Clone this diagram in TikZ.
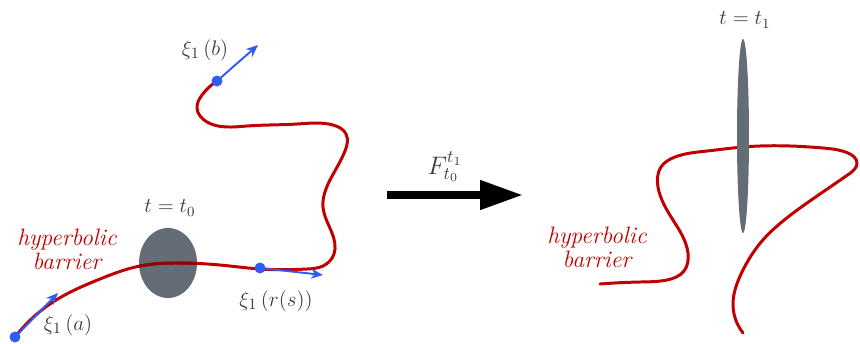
\documentclass[tikz,border=0pt]{standalone}
\usepackage{xcolor}
\definecolor{barrierred}{HTML}{C00000}
\definecolor{darkbarrier}{HTML}{850808}
\definecolor{blobgray}{HTML}{646C75}
\definecolor{tanblue}{HTML}{2F5CF2}
\definecolor{inkgray}{HTML}{3A3A3A}
\usepackage{tikz}
\usetikzlibrary{arrows.meta, positioning, shapes.geometric, hobby}

\begin{document}
\begin{tikzpicture}[x=0.02cm, y=-0.02cm, use Hobby shortcut,
  curve/.style={draw=barrierred, line width=1.7pt, line cap=round},
  blob/.style={ellipse, fill=blobgray, inner sep=0pt},
  tipdot/.style={circle, fill=tanblue, inner sep=0pt, minimum size=2.2mm},
  tanarr/.style={-{Stealth[length=2.4mm, width=2mm]}, line width=1.1pt, draw=tanblue},
  maparr/.style={-{Triangle[length=8.6mm, width=5.6mm]}, line width=4.4pt},
  lbl/.style={font=\large, text=inkgray},
  xilbl/.style={font=\fontsize{13}{15}\selectfont, text=inkgray},
  hyp/.style={font=\fontsize{13.5}{13.7}\selectfont\itshape, text=barrierred, align=center}]
  \useasboundingbox (0,0) rectangle (860,343);
  % time t0
  \node[blob, minimum width=1.16cm, minimum height=1.4cm] (blob0) at (168,263) {};
  \draw[curve] (15,337) .. (53,302) .. (100,279) .. (140,266) .. (180,263) .. (220,265)
    .. (260,269) .. (307,269) .. (323,266) .. (334,254) .. (332,233) .. (323,207) .. (330,180)
    .. (345,151) .. (346,134) .. (333,125) .. (297,124) .. (247,126) .. (207,122) .. (197,108)
    .. (202,95) .. (217,81);
  \begin{scope}
    \clip (168,263) ellipse [x radius=0.58cm, y radius=0.7cm];
    \draw[curve, draw=darkbarrier] (15,337) .. (53,302) .. (100,279) .. (140,266) .. (180,263)
      .. (220,265) .. (260,269);
  \end{scope}
  \node[tipdot] (dotA) at (15,337) {};
  \node[tipdot] (dotB) at (217,81) {};
  \node[tipdot] (dotR) at (260,268) {};
  \coordinate (tipA) at (58,293);
  \coordinate (tipB) at (258,45);
  \coordinate (tipR) at (323,275);
  \draw[tanarr] (dotA.center) -- (tipA);
  \draw[tanarr] (dotB.center) -- (tipB);
  \draw[tanarr] (dotR.center) -- (tipR);
  \node[xilbl] (labA) at (68,325) {$\xi_1\left(a\right)$};
  \node[xilbl] (labB) at (205,50) {$\xi_1\left(b\right)$};
  \node[xilbl] (labR) at (276,301) {$\xi_1\left(r(s)\right)$};
  \node[lbl] (time0) at (170,208) {$t=t_0$};
  \node[hyp] (hypL) at (67,249) {hyperbolic\\barrier};
  % flow map
  \coordinate (mapS) at (387,195);
  \coordinate (mapE) at (523,195);
  \draw[maparr] (mapS) -- (mapE);
  \node[lbl, font=\Large] (flow) at (445,167) {$F_{t_0}^{t_1}$};
  % time t1
  \draw[curve] (600,284) .. (640,282) .. (667,280) .. (684,271) .. (688,253) .. (673,220)
    .. (658,187) .. (661,167) .. (675,157) .. (707,151) .. (743,147) .. (823,148) .. (848,153)
    .. (857,163) .. (849,174) .. (807,203) .. (783,221) .. (762,241) .. (742,272) .. (733,305)
    .. (737,323) .. (743,333);
  \node[blob, minimum width=0.24cm, minimum height=3.88cm] (blob1) at (743,136) {};
  \node[lbl] (time1) at (745,20) {$t=t_1$};
  \node[hyp] (hypR) at (597,247) {hyperbolic\\barrier};
\end{tikzpicture}
\end{document}
